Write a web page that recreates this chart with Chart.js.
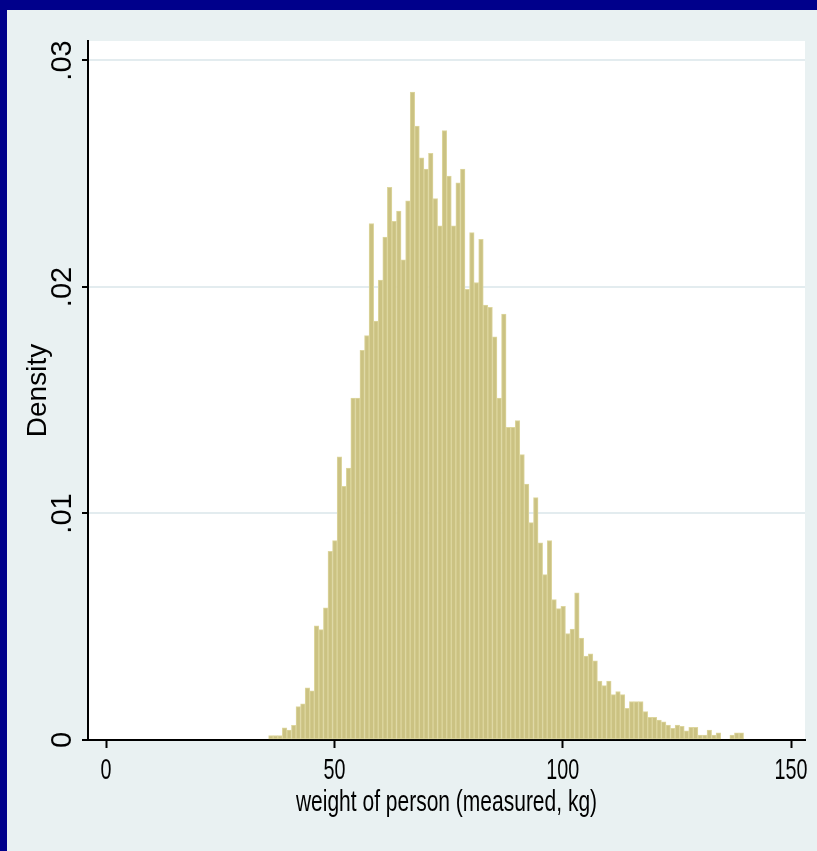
<!DOCTYPE html>
<html>
<head>
<meta charset="utf-8">
<title>Histogram: weight of person</title>
<script src="https://cdn.jsdelivr.net/npm/chart.js@4.4.1/dist/chart.umd.min.js"></script>
<style>
  html, body { margin: 0; padding: 0; background: #00008b; }
  #wrap { width: 817px; height: 851px; }
</style>
</head>
<body>
<div id="wrap"><canvas id="hist" width="817" height="851"></canvas></div>
<script>
// histogram bins (kg), width 1
const binStart = 35.6;
const binWidth = 1;
const densities = [
  0.0002, 0.0002, 0.0002, 0.00054, 0.00044, 0.00065, 0.00147, 0.0016, 0.0023, 0.00217,
  0.00504, 0.00487, 0.00583, 0.00833, 0.0088, 0.0125, 0.0112, 0.0120, 0.0151, 0.0151,
  0.0172, 0.01785, 0.0228, 0.0185, 0.0203, 0.0222, 0.0244, 0.0229, 0.02335, 0.0212,
  0.0238, 0.0286, 0.0271, 0.0257, 0.0252, 0.0259, 0.0239, 0.0227, 0.0269, 0.0249,
  0.0227, 0.0246, 0.0252, 0.0199, 0.0224, 0.0202, 0.0221, 0.0192, 0.0191, 0.0178,
  0.0151, 0.0188, 0.0138, 0.0138, 0.0141, 0.0126, 0.0113, 0.0096, 0.0107, 0.0087,
  0.0073, 0.0088, 0.0062, 0.0058, 0.0059, 0.0047, 0.0049, 0.0065, 0.0045, 0.0037,
  0.0038, 0.0035, 0.0026, 0.0024, 0.0026, 0.0020, 0.00214, 0.0020, 0.0014, 0.0017,
  0.0017, 0.0017, 0.00125, 0.0010, 0.0010, 0.00088, 0.0008, 0.00066, 0.00052, 0.00066,
  0.0006, 0.00041, 0.00056, 0.00056, 0.00022, 0.00022, 0.00044, 0.00022, 0.00032, 0,
  0, 0.00022, 0.00032, 0.00032
];
const xTickValues = [0, 50, 100, 150];
const xTickLabels = ["0", "50", "100", "150"];
const yTickValues = [0, 0.01, 0.02, 0.03];
const yTickLabels = ["0", ".01", ".02", ".03"];
const xTitle = "weight of person (measured, kg)";
const yTitle = "Density";

const points = densities.map((d, i) => ({ x: binStart + binWidth * (i + 0.5), y: d }));

// stata-ish text: squeeze < 1 narrows the glyphs
function stataText(ctx, text, x, y, size, squeeze, angle) {
  ctx.save();
  ctx.translate(x, y);
  if (angle) ctx.rotate(angle);
  ctx.scale(squeeze, 1);
  ctx.font = size + "px 'Liberation Sans', Arial, sans-serif";
  ctx.textAlign = "center";
  ctx.textBaseline = "middle";
  ctx.fillStyle = "#000";
  ctx.fillText(text, 0, 0);
  ctx.restore();
}

const backdrop = {
  id: "backdrop",
  beforeDraw(chart) {
    const { ctx, chartArea: a } = chart;
    ctx.save();
    ctx.fillStyle = "#00008b";
    ctx.fillRect(0, 0, chart.width, chart.height);
    ctx.fillStyle = "#e9f1f2";
    ctx.fillRect(7, 10, chart.width - 7, chart.height - 10);
    ctx.fillStyle = "#ffffff";
    ctx.fillRect(a.left, a.top, a.right - a.left, a.bottom - a.top);
    ctx.restore();
  }
};

const labels = {
  id: "labels",
  afterDraw(chart) {
    const { ctx, chartArea: a } = chart;
    const xs = chart.scales.x;
    const ys = chart.scales.y;
    xTickValues.forEach((v, i) => {
      stataText(ctx, xTickLabels[i], xs.getPixelForValue(v), 771, 29, 0.68, 0);
    });
    yTickValues.forEach((v, i) => {
      stataText(ctx, yTickLabels[i], 63, ys.getPixelForValue(v), 29, 1, -Math.PI / 2);
    });
    stataText(ctx, xTitle, (a.left + a.right) / 2, 803, 30, 0.7, 0);
    stataText(ctx, yTitle, 38, (a.top + a.bottom) / 2, 28, 1, -Math.PI / 2);
  }
};

new Chart(document.getElementById("hist"), {
  type: "bar",
  data: {
    datasets: [{
      data: points,
      backgroundColor: "#cbc282",
      borderColor: "#ddd69e",
      borderWidth: 1,
      borderSkipped: false,
      barPercentage: 1,
      categoryPercentage: 1
    }]
  },
  options: {
    responsive: false,
    animation: false,
    layout: { padding: { top: 41, right: 12, left: 0, bottom: 0 } },
    plugins: {
      legend: { display: false },
      tooltip: { enabled: false }
    },
    scales: {
      x: {
        type: "linear",
        min: -3.95,
        max: 153.05,
        offset: false,
        z: 1,
        afterBuildTicks: (scale) => { scale.ticks = xTickValues.map((v) => ({ value: v })); },
        afterFit: (scale) => { scale.height = 111; },
        ticks: { display: false },
        grid: { offset: false, drawOnChartArea: false, drawTicks: true, tickLength: 8, tickColor: "#000", tickWidth: 2 },
        border: { color: "#000", width: 2 }
      },
      y: {
        min: 0,
        max: 0.03086,
        afterBuildTicks: (scale) => { scale.ticks = yTickValues.map((v) => ({ value: v })); },
        afterFit: (scale) => { scale.width = 88; },
        ticks: { display: false },
        grid: { color: "#e3ecef", lineWidth: 2, tickLength: 6, tickColor: "#000", tickWidth: 2 },
        border: { color: "#000", width: 2 }
      }
    }
  },
  plugins: [backdrop, labels]
});
</script>
</body>
</html>
